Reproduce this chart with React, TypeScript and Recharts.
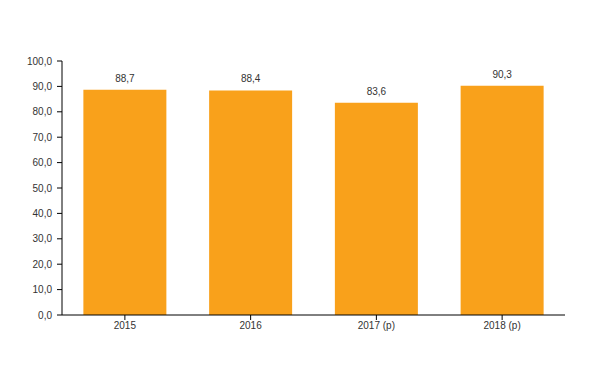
import React from "react";
import { BarChart, Bar, XAxis, YAxis, LabelList } from "recharts";

const categories = ["2015", "2016", "2017 (p)", "2018 (p)"];
const values = [88.7, 88.4, 83.6, 90.3];
const yTicks = [0, 10, 20, 30, 40, 50, 60, 70, 80, 90, 100];

const data = categories.map((c, i) => ({ name: c, value: values[i] }));
const fmt = (v: number) => v.toFixed(1).replace(".", ",");

export default function App() {
  return (
    <BarChart
      width={584}
      height={375}
      data={data}
      margin={{ top: 53, right: 27, left: 4, bottom: 38 }}
      barCategoryGap="17%"
    >
      <XAxis
        dataKey="name"
        height={30}
        axisLine={{ stroke: "#000" }}
        tickLine={{ stroke: "#000" }}
        tick={{ fill: "#333", fontSize: 10, fontFamily: "Liberation Sans, Arial, sans-serif" }}
        tickSize={5}
      />
      <YAxis
        width={50}
        domain={[0, 100]}
        ticks={yTicks}
        interval={0}
        tickFormatter={fmt}
        axisLine={{ stroke: "#000" }}
        tickLine={{ stroke: "#000" }}
        tickSize={5}
        tickMargin={5}
        tick={{ fill: "#333", fontSize: 10, fontFamily: "Liberation Sans, Arial, sans-serif" }}
      />
      <Bar dataKey="value" fill="#F9A11B" isAnimationActive={false}>
        <LabelList
          dataKey="value"
          position="top"
          offset={8}
          formatter={(v: any) => fmt(Number(v))}
          style={{ fill: "#333", fontSize: 10, fontFamily: "Liberation Sans, Arial, sans-serif" }}
        />
      </Bar>
    </BarChart>
  );
}
